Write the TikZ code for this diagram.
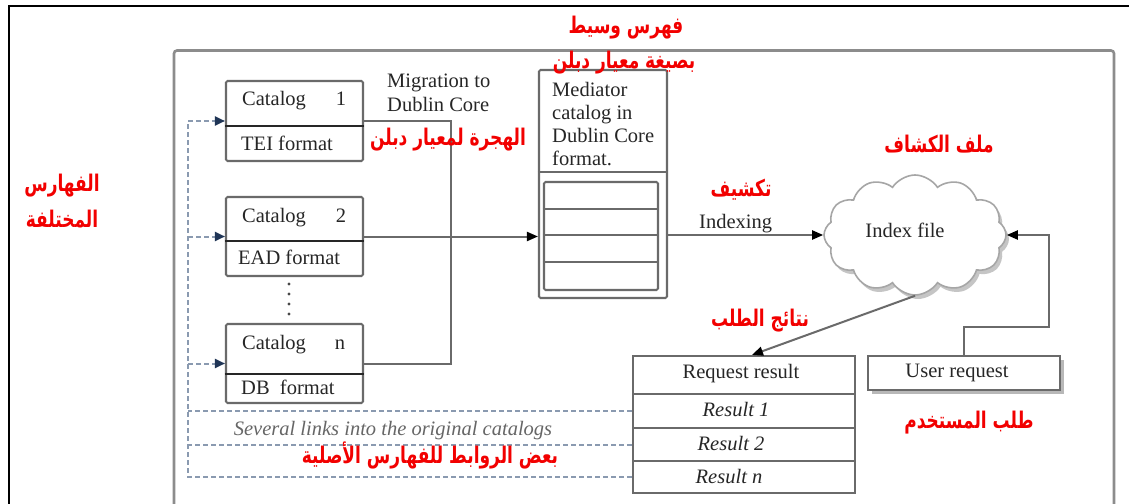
\documentclass[tikz,border=0pt]{standalone}
\usepackage{fontspec}
\setmainfont{Liberation Serif}
\newfontfamily\arabicfont[Script=Arabic]{DejaVu Sans}
\TeXXeTstate=1
\usetikzlibrary{arrows.meta,shapes.symbols,shadows,calc}

\definecolor{linegray}{HTML}{6A6A6A}
\definecolor{framegray}{HTML}{8C8C8C}
\definecolor{linkblue}{HTML}{8A9AB0}
\definecolor{navy}{HTML}{1F3556}
\definecolor{ink}{HTML}{262626}
\definecolor{arred}{HTML}{F20000}

% Arabic labels are set a little taller than the font draws them
\newcommand{\artext}[1]{\scalebox{1}[1.35]{\beginR #1\endR}}

\tikzset{
  box/.style={draw=linegray, line width=2.1pt, rounded corners=1.5pt, inner sep=0pt, fill=white},
  divider/.style={draw=ink, line width=2pt},
  rowline/.style={draw=linegray, line width=2pt},
  en/.style={text=ink, font=\fontsize{20.5}{24}\selectfont, inner sep=0pt},
  enit/.style={text=ink, font=\fontsize{20.5}{24}\selectfont\itshape, inner sep=0pt},
  ar/.style={text=arred, font=\arabicfont\bfseries\fontsize{17}{20}\selectfont, inner sep=0pt},
  conn/.style={draw=linegray, line width=2pt},
  tip/.style={-{Triangle[length=11pt,width=9pt,color=black]}},
  link/.style={draw=linkblue, line width=2pt, dash pattern=on 5pt off 3pt},
  ltip/.style={-{Triangle[length=10pt,width=9pt,color=navy]}},
}

\begin{document}
\begin{tikzpicture}[x=1pt,y=-1pt]
\useasboundingbox (0,0) rectangle (1129,503);
\fill[white] (0,0) rectangle (1129,503);

% page frame and panel frame
\draw[black, line width=2.8pt] (9,520) -- (9,6) -- (1140,6);
\draw[framegray, line width=2.6pt, rounded corners=3pt] (174,520) -- (174,50.5) -- (1114,50.5) -- (1114,520);

% source catalogs
\node[box, minimum width=137pt, minimum height=80pt] (c1) at (294.5,121) {};
\node[box, minimum width=137pt, minimum height=79pt] (c2) at (294.5,236.5) {};
\node[box, minimum width=137pt, minimum height=79pt] (cn) at (294.5,363.5) {};
\draw[divider] ($(c1.north west)+(0,46)$) -- ($(c1.north east)+(0,46)$);
\draw[divider] ($(c2.north west)+(0,45)$) -- ($(c2.north east)+(0,45)$);
\draw[divider] ($(cn.north west)+(0,51)$) -- ($(cn.north east)+(0,51)$);

\node[en, anchor=base west] (c1a) at (242,105) {Catalog};
\node[en, anchor=base] (c1b) at (341,105) {1};
\node[en, anchor=base west] (c1c) at (241,150) {TEI format};
\node[en, anchor=base west] (c2a) at (242,222) {Catalog};
\node[en, anchor=base] (c2b) at (341,222) {2};
\node[en, anchor=base west] (c2c) at (238,264) {EAD format};
\node[en, anchor=base west] (cna) at (242,349) {Catalog};
\node[en, anchor=base] (cnb) at (340,349) {n};
\node[en, anchor=base west] (cnc) at (241,394) {DB\ \ format};

\foreach \yy in {284,294,304,314} \fill[ink!85] (289,\yy) circle (1.7pt);

% mediator catalog
\node[box, minimum width=128pt, minimum height=228pt] (med) at (603,184) {};
\draw[rowline] ($(med.north west)+(0,103)$) -- ($(med.north east)+(0,103)$);
\node[box, minimum width=114pt, minimum height=108pt] (medin) at (601,236) {};
\foreach \dy in {28,54,81}
  \draw[rowline] ($(medin.north west)+(0,\dy)$) -- ($(medin.north east)+(0,\dy)$);
\node[en, anchor=base west] (m1) at (552,96) {Mediator};
\node[en, anchor=base west] (m2) at (552,119) {catalog in};
\node[en, anchor=base west] (m3) at (552,142) {Dublin Core};
\node[en, anchor=base west] (m4) at (552,165) {format.};

\node[en, anchor=base west] (mig1) at (387,88) {Migration to};
\node[en, anchor=base west] (mig2) at (387,111) {Dublin Core};

% index file
\node[cloud, cloud puffs=12, cloud puff arc=115, aspect=1.5, draw=black!35, line width=1.6pt,
      fill=white, minimum width=182pt, minimum height=120pt,
      drop shadow={shadow xshift=3pt, shadow yshift=-4pt, fill=black!45}] (idx) at (915,235) {};
\node[en, anchor=base] (idxt) at (905,237) {Index file};

% user request
\node[box, rounded corners=0pt, minimum width=192pt, minimum height=34pt,
      drop shadow={shadow xshift=4pt, shadow yshift=-4pt, fill=black!55}] (ur) at (964,373) {};
\node[en, anchor=base] (urt) at (957,377) {User request};

% request result table
\node[box, rounded corners=0pt, minimum width=222pt, minimum height=38pt] (rr) at (744,375) {};
\node[box, rounded corners=0pt, minimum width=222pt, minimum height=34pt] (r1) at (744,411) {};
\node[box, rounded corners=0pt, minimum width=222pt, minimum height=33pt] (r2) at (744,444.5) {};
\node[box, rounded corners=0pt, minimum width=222pt, minimum height=32pt] (rn) at (744,477) {};
\node[en, anchor=base] (rrt) at (741,378) {Request result};
\node[enit, anchor=base] (r1t) at (736,416) {Result 1};
\node[enit, anchor=base] (r2t) at (731,450) {Result 2};
\node[enit, anchor=base] (rnt) at (729,483) {Result n};

% connectors
\draw[conn] (c1.east) -- ++(87,0) |- (cn.east);
\draw[conn, tip] (c2.east) -- (c2.east -| med.west);
\draw[conn, tip] (med.east |- idx.west) -- (idx.west);
\draw[conn, tip] (idx.south) -- ($(rr.north)+(8,0)$);
\coordinate (ubend) at (1049,327);
\draw[conn, tip] (ur.north) |- (ubend) |- (idx.east);

\node[en, anchor=base west] (ixt) at (699,228) {Indexing};

% links back to the source catalogs
\coordinate (sp) at (188,122);
\draw[link, ltip] (rn.west) -- (rn.west -| sp) -- (c1.west -| sp) -- (c1.west);
\draw[link, ltip] (c2.west -| sp) -- (c2.west);
\draw[link, ltip] (cn.west -| sp) -- (cn.west);
\draw[link] (r1.west) -- (r1.west -| sp);
\draw[link] (r2.west) -- (r2.west -| sp);
\node[enit, text=black!60, anchor=base] (sev) at (393,435) {Several links into the original catalogs};

% Arabic labels
\node[ar] (a1) at (626,28) {\artext{فهرس وسيط}};
\node[ar] (a2) at (624,63) {\artext{بصيغة معيار دبلن}};
\node[ar] (a3) at (448,140) {\artext{الهجرة لمعيار دبلن}};
\node[ar] (a4) at (741,190) {\artext{تكشيف}};
\node[ar] (a5) at (939,144) {\artext{ملف الكشاف}};
\node[ar] (a6) at (760,321) {\artext{نتائج الطلب}};
\node[ar] (a7) at (969,423) {\artext{طلب المستخدم}};
\node[ar] (a8) at (62,186) {\artext{الفهارس}};
\node[ar] (a9) at (62,219) {\artext{المختلفة}};
\node[ar] (a10) at (430,455) {\artext{بعض الروابط للفهارس الأصلية}};
\end{tikzpicture}
\end{document}
